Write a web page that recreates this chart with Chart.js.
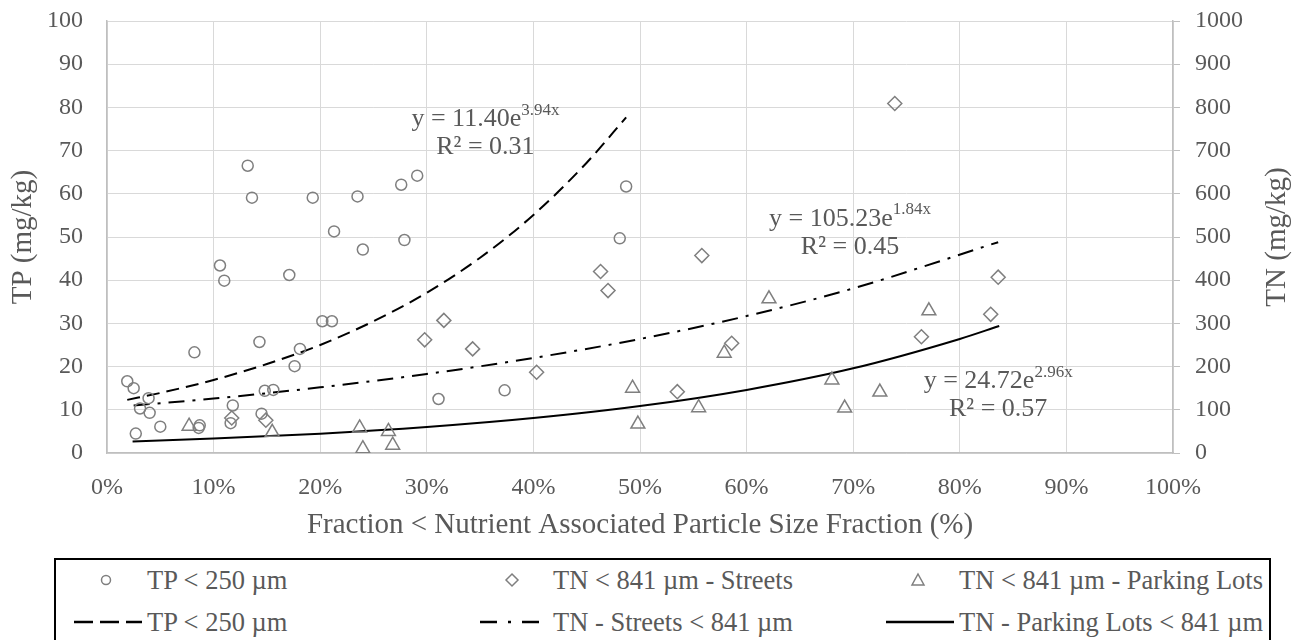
<!DOCTYPE html>
<html>
<head>
<meta charset="utf-8">
<script src="https://cdn.jsdelivr.net/npm/chart.js@4.4.1/dist/chart.umd.min.js"></script>
<style>
  body { margin: 0; background: #fff; }
  #wrap { position: relative; width: 1302px; height: 640px; overflow: hidden; }
  #chart { position: absolute; left: 0; top: 0; }
  #legend { position: absolute; left: 54px; top: 558px; width: 1217px; height: 100px;
            border: 2px solid #000; box-sizing: border-box; }
  .lg { position: absolute; font: 26.5px "Liberation Serif"; color: #595959; white-space: nowrap;
        line-height: 30px; }
  .sym { position: absolute; }
</style>
</head>
<body>
<div id="wrap">
  <canvas id="chart" width="1302" height="550"></canvas>
  <div id="legend"></div>
</div>
<script>
// TP < 250 um (x = fraction %, y = TP mg/kg)
const tpX = [1.9, 2.5, 2.7, 3.1, 3.9, 4.0, 5.0, 8.2, 8.6, 8.7, 10.6, 11.0, 11.6, 11.8, 13.2, 13.6, 14.3, 14.5,
             14.8, 15.6, 17.1, 17.6, 18.1, 19.3, 20.2, 21.1, 21.3, 23.5, 24.0, 27.6, 27.9, 29.1, 31.1, 37.3, 48.1, 48.7];
const tpY = [16.6, 15.0, 4.5, 10.3, 12.7, 9.3, 6.1, 23.3, 5.8, 6.4, 43.4, 39.9, 6.9, 11.0, 66.5, 59.1, 25.7, 9.1,
             14.4, 14.6, 41.2, 20.1, 24.1, 59.1, 30.5, 30.5, 51.3, 59.4, 47.1, 62.1, 49.3, 64.2, 12.5, 14.5, 49.7, 61.7];

// TN < 841 um - Streets (y = TN mg/kg)
const stX = [11.7, 14.9, 29.8, 31.6, 34.3, 40.3, 46.3, 47.0, 53.5, 55.8, 58.6, 73.9, 76.4, 82.9, 83.6];
const stY = [81, 76, 262, 307, 241, 187, 420, 376, 142, 457, 254, 809, 269, 321, 407];

// TN < 841 um - Parking Lots
const plX = [7.7, 15.5, 23.7, 24.0, 26.4, 26.8, 49.3, 49.8, 55.5, 57.9, 62.1, 68.0, 69.2, 72.5, 77.1];
const plY = [62, 48, 58, 10, 50, 18, 150, 67, 105, 231, 357, 169, 104, 141, 329];

// trend lines
const tpFitX = [1.9, 5, 10, 15, 20, 25, 30, 35, 40, 45, 48.7];
const tpFitY = [12.3, 13.9, 16.9, 20.6, 25.0, 30.5, 37.1, 45.2, 55.1, 67.2, 77.7];
const stFitX = [2.5, 10, 20, 30, 40, 50, 60, 70, 83.6];
const stFitY = [110, 126, 152, 183, 220, 264, 317, 381, 488];
const plFitX = [2.4, 10, 20, 30, 40, 50, 60, 70, 80, 83.7];
const plFitY = [26.5, 33.3, 44.7, 60.1, 80.8, 108.6, 146, 196, 264, 294];

const xTicks = [0, 10, 20, 30, 40, 50, 60, 70, 80, 90, 100];

const equations = [
  { x: 35.5, y: 77.3, base: 'y = 11.40e', sup: '3.94x', r2: 'R² = 0.31' },
  { x: 69.7, y: 54.2, base: 'y = 105.23e', sup: '1.84x', r2: 'R² = 0.45' },
  { x: 83.6, y: 16.6, base: 'y = 24.72e', sup: '2.96x', r2: 'R² = 0.57' }
];

const TXT = '#595959';
const MK = '#7f7f7f';
const FONT = '"Liberation Serif"';

const pts = (xs, ys) => xs.map((x, i) => ({ x: x, y: ys[i] }));

const extras = {
  id: 'extras',
  afterDatasetsDraw(chart) {
    const ctx = chart.ctx;
    const sx = chart.scales.x, sy = chart.scales.y;
    ctx.save();
    ctx.fillStyle = TXT;
    ctx.textBaseline = 'middle';
    equations.forEach(e => {
      const cx = sx.getPixelForValue(e.x), cy = sy.getPixelForValue(e.y);
      ctx.font = '26px ' + FONT;
      const w1 = ctx.measureText(e.base).width;
      ctx.font = '17px ' + FONT;
      const w2 = ctx.measureText(e.sup).width;
      const x0 = cx - (w1 + w2) / 2;
      ctx.textAlign = 'left';
      ctx.font = '26px ' + FONT;
      ctx.fillText(e.base, x0, cy);
      ctx.font = '17px ' + FONT;
      ctx.fillText(e.sup, x0 + w1, cy - 9);
      ctx.font = '26px ' + FONT;
      ctx.textAlign = 'center';
      ctx.fillText(e.r2, cx, cy + 28);
    });
    // right axis title, reads bottom to top
    const a = chart.chartArea;
    ctx.translate(1277, (a.top + a.bottom) / 2);
    ctx.rotate(-Math.PI / 2);
    ctx.font = '29px ' + FONT;
    ctx.textAlign = 'center';
    ctx.fillText('TN (mg/kg)', 0, 0);
    ctx.restore();
  }
};

const trimPad = s => { s.paddingTop = 12; s.paddingBottom = 12; };

new Chart(document.getElementById('chart'), {
  type: 'scatter',
  data: {
    datasets: [
      { label: 'TP < 250 µm', data: pts(tpX, tpY), yAxisID: 'y', pointStyle: 'circle', pointRadius: 5.5,
        borderColor: MK, backgroundColor: 'rgba(0,0,0,0)', borderWidth: 1.5 },
      { label: 'TN < 841 µm - Streets', data: pts(stX, stY), yAxisID: 'y2', pointStyle: 'rectRot', pointRadius: 7,
        borderColor: MK, backgroundColor: 'rgba(0,0,0,0)', borderWidth: 1.5 },
      { label: 'TN < 841 µm - Parking Lots', data: pts(plX, plY), yAxisID: 'y2', pointStyle: 'triangle', pointRadius: 8,
        borderColor: MK, backgroundColor: 'rgba(0,0,0,0)', borderWidth: 1.5 },
      { label: 'TP < 250 µm fit', data: pts(tpFitX, tpFitY), yAxisID: 'y', showLine: true, pointRadius: 0,
        borderColor: '#000', borderWidth: 2, borderDash: [13, 7], cubicInterpolationMode: 'monotone' },
      { label: 'TN - Streets fit', data: pts(stFitX, stFitY), yAxisID: 'y2', showLine: true, pointRadius: 0,
        borderColor: '#000', borderWidth: 2, borderDash: [16, 8, 3, 8], cubicInterpolationMode: 'monotone' },
      { label: 'TN - Parking Lots fit', data: pts(plFitX, plFitY), yAxisID: 'y2', showLine: true, pointRadius: 0,
        borderColor: '#000', borderWidth: 2, cubicInterpolationMode: 'monotone' }
    ]
  },
  options: {
    responsive: false,
    animation: false,
    layout: { padding: { left: 0, right: 0, top: 21, bottom: 0 } },
    plugins: { legend: { display: false }, tooltip: { enabled: false } },
    scales: {
      x: {
        type: 'linear', min: 0, max: 100,
        afterBuildTicks: s => { s.ticks = xTicks.map(v => ({ value: v })); },
        afterFit: s => { s.height = 97; },
        grid: { color: '#d9d9d9', lineWidth: 1, drawTicks: false },
        border: { color: '#bfbfbf', width: 1.5 },
        ticks: { color: TXT, font: { family: FONT, size: 24 }, padding: 20, maxRotation: 0, autoSkip: false,
                 callback: v => v + '%' },
        title: { display: true, text: 'Fraction < Nutrient Associated Particle Size Fraction (%)', color: TXT,
                 font: { family: FONT, size: 29 }, padding: { top: 0, bottom: 7 } }
      },
      y: {
        position: 'left', min: 0, max: 100,
        afterFit: s => { s.width = 107; trimPad(s); },
        grid: { color: '#d9d9d9', lineWidth: 1, drawTicks: false },
        border: { color: '#bfbfbf', width: 1.5 },
        ticks: { stepSize: 10, color: TXT, font: { family: FONT, size: 24 }, padding: 24 },
        title: { display: true, text: 'TP (mg/kg)', color: TXT, font: { family: FONT, size: 29 },
                 padding: { top: 6, bottom: 0 } }
      },
      y2: {
        position: 'right', min: 0, max: 1000,
        afterFit: s => { s.width = 129; trimPad(s); },
        grid: { drawOnChartArea: false, color: '#bfbfbf', tickLength: 7 },
        border: { color: '#bfbfbf', width: 1.5 },
        ticks: { stepSize: 100, color: TXT, font: { family: FONT, size: 24 }, padding: 15,
                 callback: v => String(v) }
      }
    }
  },
  plugins: [extras, {
    id: 'bg',
    beforeDraw(c) { c.ctx.save(); c.ctx.fillStyle = '#fff'; c.ctx.fillRect(0, 0, c.width, c.height); c.ctx.restore(); }
  }]
});

// legend: 3 columns x 2 rows
const legendItems = [
  { col: 0, row: 0, sym: 'circle', text: 'TP < 250 µm' },
  { col: 1, row: 0, sym: 'diamond', text: 'TN < 841 µm - Streets' },
  { col: 2, row: 0, sym: 'triangle', text: 'TN < 841 µm - Parking Lots' },
  { col: 0, row: 1, sym: 'dash', text: 'TP < 250 µm' },
  { col: 1, row: 1, sym: 'dashdot', text: 'TN - Streets < 841 µm' },
  { col: 2, row: 1, sym: 'solid', text: 'TN - Parking Lots < 841 µm' }
];
const colLeft = [0, 406, 812];
const rowY = [20, 62];
const svgNS = 'http://www.w3.org/2000/svg';
const lg = document.getElementById('legend');
legendItems.forEach(it => {
  const x0 = colLeft[it.col], cy = rowY[it.row];
  const svg = document.createElementNS(svgNS, 'svg');
  svg.setAttribute('width', 80); svg.setAttribute('height', 20);
  svg.setAttribute('class', 'sym');
  svg.style.left = (x0 + 14) + 'px'; svg.style.top = (cy - 10) + 'px';
  let el;
  if (it.sym === 'circle') {
    el = document.createElementNS(svgNS, 'circle');
    el.setAttribute('cx', 36); el.setAttribute('cy', 10); el.setAttribute('r', 4.5);
  } else if (it.sym === 'diamond') {
    el = document.createElementNS(svgNS, 'polygon');
    el.setAttribute('points', '36,4 42,10 36,16 30,10');
  } else if (it.sym === 'triangle') {
    el = document.createElementNS(svgNS, 'polygon');
    el.setAttribute('points', '36,4 42,15 30,15');
  } else {
    el = document.createElementNS(svgNS, 'line');
    el.setAttribute('x1', 4); el.setAttribute('y1', 10); el.setAttribute('x2', 72); el.setAttribute('y2', 10);
  }
  if (['circle', 'diamond', 'triangle'].includes(it.sym)) {
    el.setAttribute('fill', 'none'); el.setAttribute('stroke', MK); el.setAttribute('stroke-width', 1.5);
  } else {
    el.setAttribute('stroke', '#000'); el.setAttribute('stroke-width', 2.5);
    if (it.sym === 'dash') el.setAttribute('stroke-dasharray', '19 7');
    if (it.sym === 'dashdot') el.setAttribute('stroke-dasharray', '17 11 3 11');
  }
  svg.appendChild(el);
  lg.appendChild(svg);
  const span = document.createElement('span');
  span.className = 'lg';
  span.textContent = it.text;
  span.style.left = (x0 + 91) + 'px';
  span.style.top = (cy - 15) + 'px';
  lg.appendChild(span);
});
</script>
</body>
</html>
